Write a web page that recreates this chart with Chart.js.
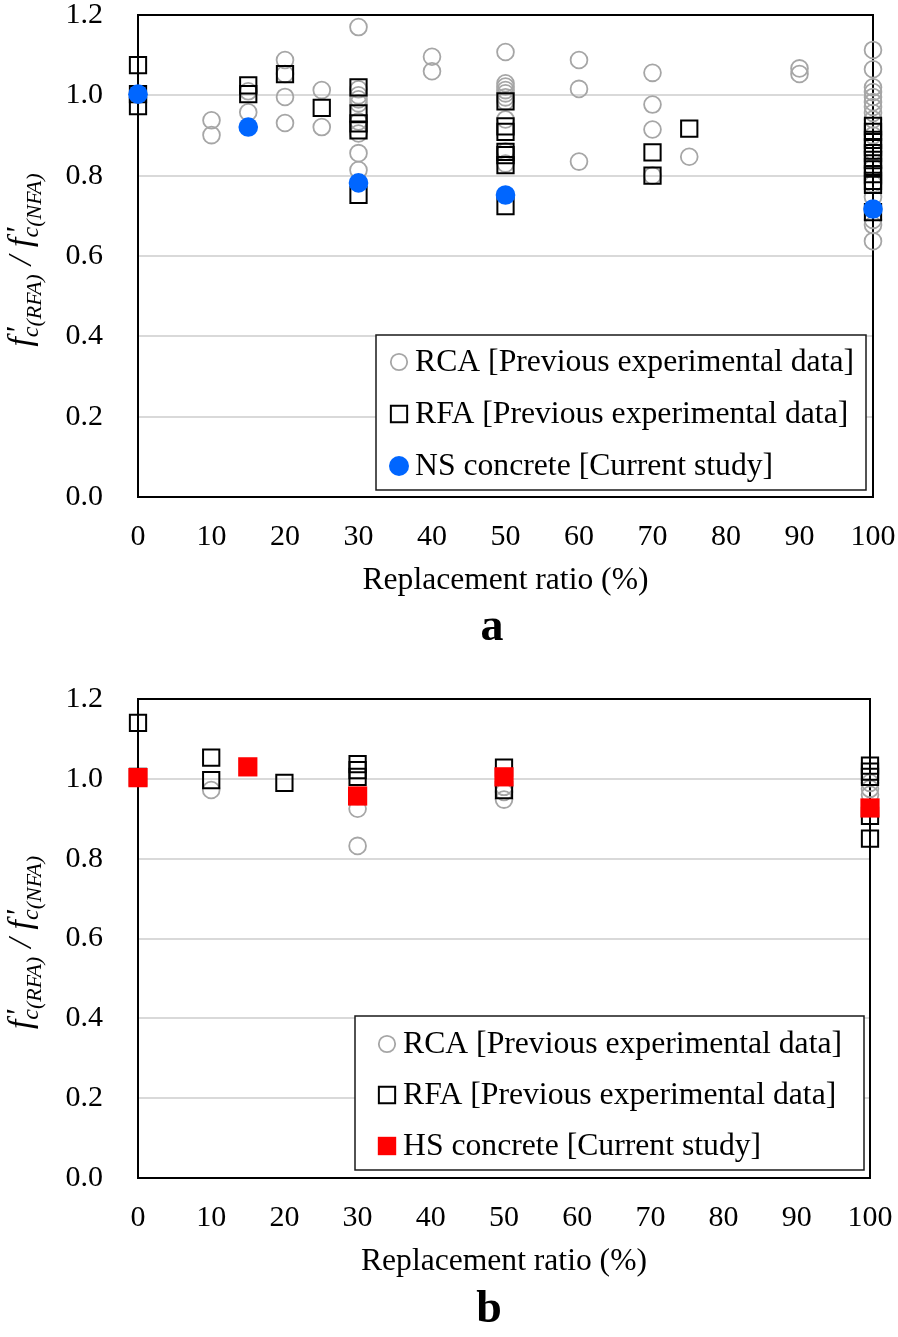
<!DOCTYPE html>
<html>
<head>
<meta charset="utf-8">
<script src="https://cdn.jsdelivr.net/npm/chart.js@4.4.1/dist/chart.umd.min.js"></script>
<style>
  html, body { margin: 0; padding: 0; background: #fff; }
  #wrap { position: relative; width: 898px; height: 1337px; }
  canvas { position: absolute; left: 0; }
  #chartA { top: 0; }
  #chartB { top: 668px; }
</style>
</head>
<body>
<div id="wrap">
  <canvas id="chartA" width="898" height="668"></canvas>
  <canvas id="chartB" width="898" height="669"></canvas>
</div>
<script>
// tick labels
const xTickValues = [0, 10, 20, 30, 40, 50, 60, 70, 80, 90, 100];
const yTickValues = [0, 0.2, 0.4, 0.6, 0.8, 1.0, 1.2];

// legend texts
const labelRCA = 'RCA [Previous experimental data]';
const labelRFA = 'RFA [Previous experimental data]';
const labelNS = 'NS concrete [Current study]';
const labelHS = 'HS concrete [Current study]';

// panel a : [replacement ratio, f'c ratio]
const rcaA = [
  [10, 0.938], [10, 0.901],
  [15, 1.010], [15, 0.958],
  [20, 1.088], [20, 1.053], [20, 0.996], [20, 0.931],
  [25, 1.013], [25, 0.921],
  [30, 1.170], [30, 1.015], [30, 1.000], [30, 0.990], [30, 0.980], [30, 0.935], [30, 0.905], [30, 0.856], [30, 0.814],
  [40, 1.096], [40, 1.060],
  [50, 1.108], [50, 1.030], [50, 1.022], [50, 1.013], [50, 1.005], [50, 0.995], [50, 0.985], [50, 0.940], [50, 0.860], [50, 0.830],
  [60, 1.088], [60, 1.016], [60, 0.835],
  [70, 1.056], [70, 0.977], [70, 0.915], [70, 0.800],
  [75, 0.847],
  [90, 1.067], [90, 1.053],
  [100, 1.113], [100, 1.065], [100, 1.020], [100, 1.008], [100, 0.996], [100, 0.983], [100, 0.971], [100, 0.956],
  [100, 0.940], [100, 0.900], [100, 0.860], [100, 0.820], [100, 0.780], [100, 0.747], [100, 0.690], [100, 0.677], [100, 0.637]
];
const rfaA = [
  [0, 1.075], [0, 1.003], [0, 0.973],
  [15, 1.025], [15, 1.003],
  [20, 1.053],
  [25, 0.969],
  [30, 1.020], [30, 0.955], [30, 0.930], [30, 0.913], [30, 0.752],
  [50, 0.985], [50, 0.923], [50, 0.909], [50, 0.859], [50, 0.851], [50, 0.826], [50, 0.724],
  [70, 0.858], [70, 0.800],
  [75, 0.917],
  [100, 0.924], [100, 0.909], [100, 0.889], [100, 0.871], [100, 0.856], [100, 0.839], [100, 0.822],
  [100, 0.804], [100, 0.787], [100, 0.777], [100, 0.709]
];
const nsA = [[0, 1.003], [15, 0.921], [30, 0.782], [50, 0.752], [100, 0.717]];

// panel b
const rcaB = [
  [10, 0.972],
  [30, 0.957], [30, 0.925], [30, 0.832],
  [50, 0.980], [50, 0.967], [50, 0.948],
  [100, 0.990], [100, 0.975], [100, 0.960]
];
const rfaB = [
  [0, 1.140], [0, 1.005],
  [10, 1.053], [10, 0.997],
  [20, 0.990],
  [30, 1.037], [30, 1.022], [30, 1.005],
  [50, 1.028], [50, 0.972],
  [100, 1.033], [100, 1.018], [100, 1.005], [100, 0.907], [100, 0.850]
];
const hsB = [[0, 1.003], [15, 1.030], [30, 0.957], [50, 1.005], [100, 0.927]];

const serif = '"Liberation Serif", "Times New Roman", serif';
const toPts = arr => arr.map(p => ({ x: p[0], y: p[1] }));

// frame round the plot area
const framePlugin = {
  id: 'frame',
  beforeDatasetsDraw(chart) {
    const { ctx, chartArea: a } = chart;
    ctx.save();
    ctx.strokeStyle = '#000';
    ctx.lineWidth = 2;
    ctx.strokeRect(a.left, a.top, a.right - a.left, a.bottom - a.top);
    ctx.restore();
  }
};

// f'c(RFA) / f'c(NFA) rotated title
const yTitlePlugin = {
  id: 'yTitle',
  afterDraw(chart, args, o) {
    const { ctx, chartArea: a } = chart;
    const runs = [
      { t: 'f', size: 34, dy: 0 },
      { t: "'", size: 32, dy: -3, stackNext: true },
      { t: 'c', size: 24, dy: 7 },
      { t: '(RFA)', size: 22, dy: 10 },
      { t: '/', size: 34, dy: 0, pad: 9 },
      { t: 'f', size: 34, dy: 0 },
      { t: "'", size: 32, dy: -3, stackNext: true },
      { t: 'c', size: 24, dy: 7 },
      { t: '(NFA)', size: 22, dy: 10 }
    ];
    ctx.save();
    runs.forEach(r => {
      ctx.font = 'italic ' + r.size + 'px ' + serif;
      r.w = ctx.measureText(r.t).width;
    });
    const xs = [];
    let stackStart = null;
    let x = 0;
    for (let i = 0; i < runs.length; i++) {
      const r = runs[i];
      if (r.pad) x += r.pad;
      if (r.stackNext) {
        xs.push(x + 3);
        stackStart = x;
        continue;
      }
      if (stackStart !== null) {
        xs.push(stackStart);
        x = Math.max(stackStart + r.w, stackStart + runs[i - 1].w + 3);
        stackStart = null;
      } else {
        xs.push(x);
        x += r.w;
      }
      if (r.pad) x += r.pad;
    }
    const total = x;
    const cy = (a.top + a.bottom) / 2 + o.shift;
    ctx.translate(o.baseX, cy);
    ctx.rotate(-Math.PI / 2);
    ctx.fillStyle = '#000';
    ctx.textBaseline = 'alphabetic';
    ctx.textAlign = 'left';
    runs.forEach((r, i) => {
      ctx.font = 'italic ' + r.size + 'px ' + serif;
      ctx.fillText(r.t, xs[i] - total / 2, r.dy);
    });
    ctx.restore();
  }
};

// legend box inside the plot area
const boxLegendPlugin = {
  id: 'boxLegend',
  afterDraw(chart, args, o) {
    const { ctx, chartArea: a } = chart;
    const right = a.right - o.right;
    const bottom = a.bottom - o.bottom;
    const left = right - o.width;
    const top = bottom - o.height;
    ctx.save();
    ctx.fillStyle = '#fff';
    ctx.fillRect(left, top, o.width, o.height);
    ctx.strokeStyle = '#1a1a1a';
    ctx.lineWidth = 1.5;
    ctx.strokeRect(left, top, o.width, o.height);
    o.items.forEach((it, i) => {
      const ds = chart.data.datasets[it.ds];
      const cy = top + o.rowTop + i * o.rowGap;
      const cx = left + o.markX;
      ctx.beginPath();
      if (ds.pointStyle === 'rect') {
        const h = it.r * Math.SQRT1_2;
        ctx.rect(cx - h, cy - h, 2 * h, 2 * h);
      } else {
        ctx.arc(cx, cy, it.r, 0, Math.PI * 2);
      }
      if (ds.backgroundColor && ds.backgroundColor !== 'transparent') {
        ctx.fillStyle = ds.backgroundColor;
        ctx.fill();
      }
      if (ds.borderWidth > 0) {
        ctx.strokeStyle = ds.borderColor;
        ctx.lineWidth = ds.borderWidth;
        ctx.stroke();
      }
      ctx.fillStyle = '#000';
      ctx.font = '31.7px ' + serif;
      ctx.textBaseline = 'middle';
      ctx.textAlign = 'left';
      ctx.fillText(ds.label, left + o.textX, cy + 1);
    });
    ctx.restore();
  }
};

const tagPlugin = {
  id: 'tag',
  afterDraw(chart, args, o) {
    const ctx = chart.ctx;
    ctx.save();
    ctx.font = 'bold 46px ' + serif;
    ctx.fillStyle = '#000';
    ctx.textAlign = 'center';
    ctx.textBaseline = 'alphabetic';
    ctx.fillText(o.text, o.x, o.y);
    ctx.restore();
  }
};

function makeChart(id, sets, pad, legendOpts, tagOpts) {
  const datasets = [
    {
      label: labelRCA, data: toPts(sets.rca), pointStyle: 'circle', pointRadius: 8.4,
      backgroundColor: 'transparent', borderColor: '#a6a6a6', borderWidth: 1.8, order: 3, clip: false
    },
    {
      label: labelRFA, data: toPts(sets.rfa), pointStyle: 'rect', pointRadius: 11.5,
      backgroundColor: 'transparent', borderColor: '#000', borderWidth: 2, order: 2, clip: false
    },
    sets.cur.square ? {
      label: sets.cur.label, data: toPts(sets.cur.data), pointStyle: 'rect', pointRadius: 13.6,
      backgroundColor: '#ff0000', borderColor: '#ff0000', borderWidth: 0, order: 1, clip: false
    } : {
      label: sets.cur.label, data: toPts(sets.cur.data), pointStyle: 'circle', pointRadius: 9.8,
      backgroundColor: '#0066ff', borderColor: '#0066ff', borderWidth: 0, order: 1, clip: false
    }
  ];

  return new Chart(document.getElementById(id), {
    type: 'scatter',
    data: { datasets },
    options: {
      responsive: false,
      animation: false,
      events: [],
      layout: { padding: pad },
      plugins: {
        legend: { display: false },
        tooltip: { enabled: false },
        yTitle: { baseX: 31, shift: 4 },
        boxLegend: legendOpts,
        tag: tagOpts
      },
      scales: {
        x: {
          type: 'linear', min: 0, max: 100,
          afterBuildTicks: s => { s.ticks = xTickValues.map(v => ({ value: v })); },
          afterFit: s => { s.height = 103; s.paddingLeft = 0; s.paddingRight = 0; },
          grid: { display: false, drawTicks: false },
          border: { display: false },
          ticks: { color: '#000', padding: 22, font: { family: serif, size: 30 }, maxRotation: 0, callback: v => String(v) },
          title: { display: true, text: 'Replacement ratio (%)', color: '#000', padding: 0, font: { family: serif, size: 31.6 } }
        },
        y: {
          type: 'linear', min: 0, max: 1.2,
          afterBuildTicks: s => { s.ticks = yTickValues.map(v => ({ value: v })); },
          afterFit: s => { s.width = 138; s.paddingTop = 0; s.paddingBottom = 0; },
          grid: {
            drawTicks: false, lineWidth: 2,
            color: c => (c.tick && (c.tick.value === 0 || c.tick.value === 1.2)) ? 'rgba(0,0,0,0)' : '#d9d9d9'
          },
          border: { display: false },
          ticks: { color: '#000', padding: 35, font: { family: serif, size: 30 }, callback: v => v.toFixed(1) }
        }
      }
    },
    plugins: [framePlugin, yTitlePlugin, boxLegendPlugin, tagPlugin]
  });
}

makeChart('chartA',
  { rca: rcaA, rfa: rfaA, cur: { label: labelNS, data: nsA, square: false } },
  { top: 15, right: 25, bottom: 68, left: 0 },
  { right: 7, bottom: 7, width: 490, height: 155, rowTop: 27, rowGap: 52, markX: 23, textX: 39,
    items: [{ ds: 0, r: 8.2 }, { ds: 1, r: 11.5 }, { ds: 2, r: 10 }] },
  { text: 'a', x: 492, y: 640 }
);

makeChart('chartB',
  { rca: rcaB, rfa: rfaB, cur: { label: labelHS, data: hsB, square: true } },
  { top: 31, right: 28, bottom: 56, left: 0 },
  { right: 6, bottom: 8, width: 509, height: 154, rowTop: 28, rowGap: 51, markX: 32, textX: 48,
    items: [{ ds: 0, r: 8.2 }, { ds: 1, r: 11.5 }, { ds: 2, r: 13 }] },
  { text: 'b', x: 489, y: 654 }
);
</script>
</body>
</html>
